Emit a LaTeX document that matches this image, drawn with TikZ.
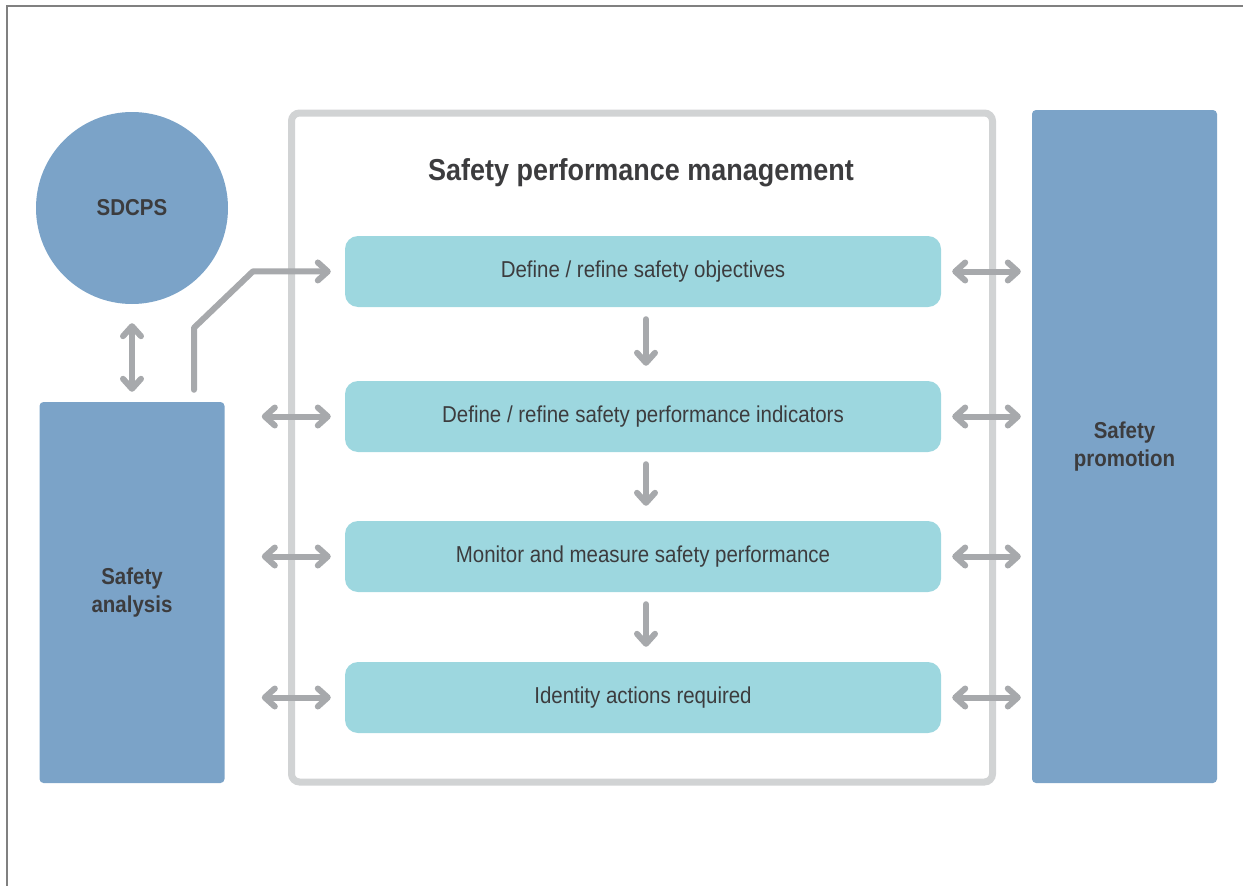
\documentclass[tikz,border=0pt]{standalone}
\usepackage{fontspec}
\setmainfont[FakeStretch=0.89]{Liberation Sans}
\usepackage{xcolor}
\usepackage{tikz}
\usetikzlibrary{arrows.meta}

\definecolor{sblue}{RGB}{123,163,200}
\definecolor{steal}{RGB}{157,215,223}
\definecolor{sframe}{RGB}{209,211,212}
\definecolor{sarrow}{RGB}{167,169,172}
\definecolor{stext}{RGB}{60,60,62}
\definecolor{sborder}{RGB}{128,128,128}

\begin{document}
\begin{tikzpicture}[x=1pt,y=-1pt,
	>={Straight Barb[round,length=10pt,width=18pt]},
	side/.style={fill=sblue,rounded corners=4pt,minimum width=185pt,inner sep=0pt,
		text=stext,align=center,font=\fontsize{23}{28}\selectfont\bfseries},
	stepbox/.style={fill=steal,rounded corners=13pt,minimum width=596pt,minimum height=71pt,
		inner sep=0pt,text=stext,font=\fontsize{23}{28}\selectfont},
	arr/.style={color=sarrow,line width=6pt,line cap=round,line join=round}]
		\useasboundingbox (0,0) rectangle (1243,886);
		\draw[sborder,line width=1.3pt] (7,886) -- (7,6) -- (1243,6);
		%
		\node[circle,fill=sblue,minimum size=192pt,inner sep=0pt,text=stext,
			font=\fontsize{23}{28}\selectfont\bfseries] (sdcps) at (132,208) {SDCPS};
		\node[side,minimum height=381pt] (ana) at (132,592.5) {Safety\\analysis};
		\node[side,minimum height=673pt] (prom) at (1124.5,446.5) {Safety\\promotion};
		%
		\node[draw=sframe,line width=7pt,rounded corners=8pt,minimum width=701pt,
			minimum height=669pt] (spm) at (642,447.5) {};
		\node[anchor=base,text=stext,font=\fontsize{30.3}{36}\selectfont\bfseries] (title)
			at (641,180) {Safety performance management};
		%
		\node[stepbox] (obj) at (643,271.5) {Define / refine safety objectives};
		\node[stepbox] (spi) at (643,416.5) {Define / refine safety performance indicators};
		\node[stepbox] (mon) at (643,556.5) {Monitor and measure safety performance};
		\node[stepbox] (act) at (643,697.5) {Identity actions required};
		%
		\path[arr,->]
		([xshift=3pt,yshift=-12pt]obj.south) edge ([xshift=3pt,yshift=15pt]spi.north)
		([xshift=3pt,yshift=-12pt]spi.south) edge ([xshift=3pt,yshift=15pt]mon.north)
		([xshift=3pt,yshift=-12pt]mon.south) edge ([xshift=3pt,yshift=15pt]act.north);
		%
		\path[arr,<->]
		([yshift=-19pt]sdcps.south) edge ([yshift=10pt]ana.north)
		([xshift=-83pt]spi.west) edge ([xshift=-14pt]spi.west)
		([xshift=-83pt]mon.west) edge ([xshift=-14pt]mon.west)
		([xshift=-83pt]act.west) edge ([xshift=-14pt]act.west)
		([xshift=11pt]obj.east) edge ([xshift=-11pt]obj.east -| prom.west)
		([xshift=11pt]spi.east) edge ([xshift=-11pt]spi.east -| prom.west)
		([xshift=11pt]mon.east) edge ([xshift=-11pt]mon.east -| prom.west)
		([xshift=11pt]act.east) edge ([xshift=-11pt]act.east -| prom.west);
		%
		\draw[arr,->] ([xshift=62pt,yshift=12pt]ana.north) -- ++(0,-62) -- ++(59,-56.5)
			-- ([xshift=-14pt]obj.west);
\end{tikzpicture}
\end{document}
